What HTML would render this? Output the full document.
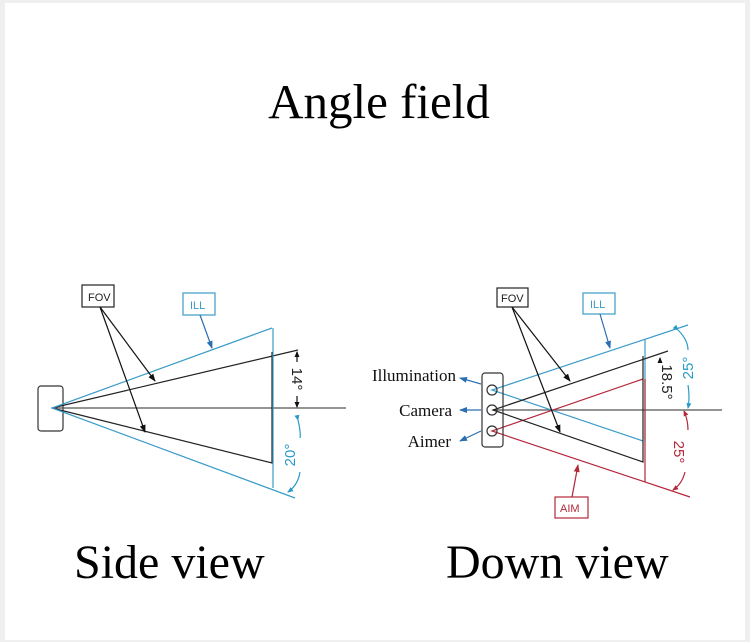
<!DOCTYPE html>
<html><head><meta charset="utf-8"><style>
html,body{margin:0;padding:0;background:#efefef;}
svg{display:block;}
</style></head><body>
<svg width="750" height="642" viewBox="0 0 750 642" xmlns="http://www.w3.org/2000/svg">
<defs>
<marker id="ak" markerWidth="8" markerHeight="8" refX="7" refY="4" orient="auto" markerUnits="userSpaceOnUse"><path d="M0,1 L8,4 L0,7z" fill="#111"/></marker>
<marker id="ab" markerWidth="8" markerHeight="8" refX="7" refY="4" orient="auto" markerUnits="userSpaceOnUse"><path d="M0,1 L8,4 L0,7z" fill="#2a6fb0"/></marker>
<marker id="ar" markerWidth="8" markerHeight="8" refX="7" refY="4" orient="auto" markerUnits="userSpaceOnUse"><path d="M0,1 L8,4 L0,7z" fill="#b3283a"/></marker>
<marker id="as" markerWidth="6" markerHeight="6" refX="5" refY="3" orient="auto" markerUnits="userSpaceOnUse"><path d="M0,0.5 L6,3 L0,5.5z" fill="#111"/></marker>
<marker id="asb" markerWidth="6" markerHeight="6" refX="5" refY="3" orient="auto" markerUnits="userSpaceOnUse"><path d="M0,0.5 L6,3 L0,5.5z" fill="#2a9bc8"/></marker>
<marker id="asr" markerWidth="6" markerHeight="6" refX="5" refY="3" orient="auto" markerUnits="userSpaceOnUse"><path d="M0,0.5 L6,3 L0,5.5z" fill="#b3283a"/></marker>
</defs>
<rect x="5" y="3" width="740" height="637" fill="#fff"/>
<text x="379" y="118" text-anchor="middle" font-family="Liberation Serif, serif" font-size="49" fill="#000">Angle field</text>

<!-- Side view -->
<g fill="none" stroke-width="1.2">
<rect x="38" y="386" width="25" height="45" rx="3" stroke="#333"/>
<line x1="52" y1="408" x2="346" y2="408" stroke="#555"/>
<polyline points="298,350 52,408 272,463 272,352" stroke="#222"/>
<polyline points="272,328 52,408 295,498" stroke="#3a9cc8"/>
<line x1="273" y1="328" x2="273" y2="488" stroke="#3a9cc8"/>
<rect x="82" y="285" width="32" height="22" stroke="#222"/>
<rect x="183" y="293" width="32" height="22" stroke="#3a9cc8"/>
<line x1="100" y1="307" x2="155" y2="381" stroke="#111" marker-end="url(#ak)"/>
<line x1="100" y1="307" x2="145" y2="432" stroke="#111" marker-end="url(#ak)"/>
<line x1="200" y1="315" x2="212" y2="348" stroke="#2a6fb0" marker-end="url(#ab)"/>
<line x1="297" y1="362" x2="297" y2="352" stroke="#111" marker-end="url(#as)"/>
<line x1="297" y1="396" x2="297" y2="407" stroke="#111" marker-end="url(#as)"/>
<path d="M298,420 Q301,433 300,438" stroke="#2a9bc8" marker-start="url(#asb)"/>
<path d="M300,472 Q298,485 288,492" stroke="#2a9bc8" marker-end="url(#asb)"/>
</g>
<text transform="translate(292,379) rotate(90)" text-anchor="middle" font-family="Liberation Sans, sans-serif" font-size="15" fill="#222">14°</text>
<text transform="translate(295,455) rotate(-90)" text-anchor="middle" font-family="Liberation Sans, sans-serif" font-size="15" fill="#2a9bc8">20°</text>
<text x="88" y="301" font-family="Liberation Sans, sans-serif" font-size="11" fill="#222">FOV</text>
<text x="190" y="309" font-family="Liberation Sans, sans-serif" font-size="11" fill="#3a9cc8">ILL</text>

<!-- Down view -->
<g fill="none" stroke-width="1.2">
<line x1="493" y1="410" x2="722" y2="410" stroke="#555"/>
<polyline points="688,325 492,390 643,441" stroke="#3a9cc8"/>
<line x1="645" y1="339" x2="645" y2="441" stroke="#3a9cc8"/>
<polyline points="643,379 492,431 690,497" stroke="#b3283a"/>
<line x1="645" y1="379" x2="645" y2="482" stroke="#b3283a"/>
<polyline points="668,351 493,410 643,462 643,356" stroke="#222"/>
<rect x="482" y="373" width="21" height="74" rx="3" stroke="#333"/>
<circle cx="492" cy="390" r="5" stroke="#333"/>
<circle cx="492" cy="410" r="5" stroke="#333"/>
<circle cx="492" cy="431" r="5" stroke="#333"/>
<rect x="497" y="288" width="31" height="19" stroke="#222"/>
<rect x="583" y="293" width="32" height="21" stroke="#3a9cc8"/>
<rect x="555" y="497" width="33" height="21" stroke="#b3283a"/>
<line x1="512" y1="307" x2="570" y2="381" stroke="#111" marker-end="url(#ak)"/>
<line x1="512" y1="307" x2="560" y2="432" stroke="#111" marker-end="url(#ak)"/>
<line x1="600" y1="314" x2="610" y2="348" stroke="#2a6fb0" marker-end="url(#ab)"/>
<line x1="572" y1="497" x2="578" y2="465" stroke="#b3283a" marker-end="url(#ar)"/>
<line x1="481" y1="384" x2="460" y2="378" stroke="#2a6fb0" marker-end="url(#ab)"/>
<line x1="481" y1="410" x2="460" y2="410" stroke="#2a6fb0" marker-end="url(#ab)"/>
<line x1="481" y1="431" x2="460" y2="441" stroke="#2a6fb0" marker-end="url(#ab)"/>
<line x1="660" y1="362" x2="660" y2="358" stroke="#111" marker-end="url(#as)"/>
<path d="M678,330 Q688,340 688,350" stroke="#2a9bc8" marker-start="url(#asb)"/>
<path d="M688,385 Q690,398 688,408" stroke="#2a9bc8" marker-end="url(#asb)"/>
<path d="M688,430 Q688,420 684,411" stroke="#b3283a" marker-end="url(#asr)"/>
<path d="M685,472 Q682,484 673,490" stroke="#b3283a" marker-end="url(#asr)"/>
</g>
<text transform="translate(662,382) rotate(90)" text-anchor="middle" font-family="Liberation Sans, sans-serif" font-size="15" fill="#222">18.5°</text>
<text transform="translate(693,368) rotate(-90)" text-anchor="middle" font-family="Liberation Sans, sans-serif" font-size="15" fill="#2a9bc8">25°</text>
<text transform="translate(674,452) rotate(90)" text-anchor="middle" font-family="Liberation Sans, sans-serif" font-size="15" fill="#b3283a">25°</text>
<text x="501" y="302" font-family="Liberation Sans, sans-serif" font-size="11" fill="#222">FOV</text>
<text x="590" y="308" font-family="Liberation Sans, sans-serif" font-size="11" fill="#3a9cc8">ILL</text>
<text x="560" y="512" font-family="Liberation Sans, sans-serif" font-size="11" fill="#b3283a">AIM</text>
<text x="456" y="381" text-anchor="end" font-family="Liberation Serif, serif" font-size="17" fill="#111">Illumination</text>
<text x="452" y="416" text-anchor="end" font-family="Liberation Serif, serif" font-size="17" fill="#111">Camera</text>
<text x="451" y="447" text-anchor="end" font-family="Liberation Serif, serif" font-size="17" fill="#111">Aimer</text>

<text x="74" y="578" font-family="Liberation Serif, serif" font-size="48" fill="#000">Side view</text>
<text x="446" y="578" font-family="Liberation Serif, serif" font-size="48" fill="#000">Down view</text>
</svg>
</body></html>
